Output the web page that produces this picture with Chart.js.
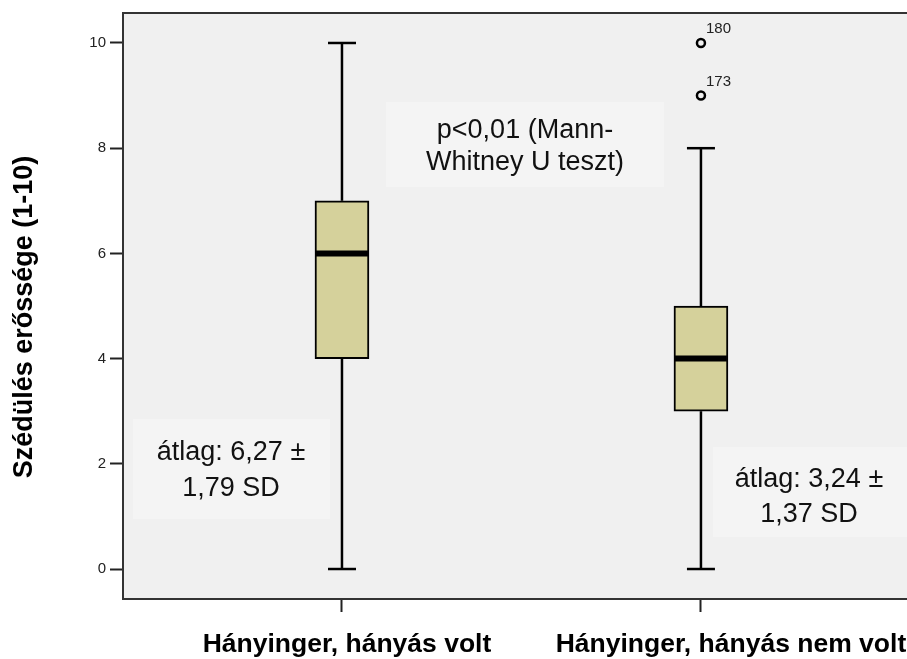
<!DOCTYPE html>
<html>
<head>
<meta charset="utf-8">
<script src="https://cdn.jsdelivr.net/npm/chart.js@4.4.1/dist/chart.umd.min.js"></script>
<style>
  body { margin: 0; background: #fff; }
  #wrap { width: 907px; height: 659px; }
</style>
</head>
<body>
<div id="wrap"><canvas id="box" width="907" height="659"></canvas></div>
<script>
const groups = ["Hányinger, hányás volt", "Hányinger, hányás nem volt"];
const groupPos = [1, 2];
const whiskerLow = [0, 0];
const q1 = [4, 3];
const median = [6, 4];
const q3 = [7, 5];
const whiskerHigh = [10, 8];

const outlierGroup = [2, 2];
const outlierValue = [10, 9];
const outlierId = ["180", "173"];

const yTicks = [0, 2, 4, 6, 8, 10];
const yTitle = "Szédülés erőssége (1-10)";

const noteLines = [
  ["p<0,01 (Mann-", "Whitney U teszt)"],
  ["átlag: 6,27 ±", "1,79 SD"],
  ["átlag: 3,24 ±", "1,37 SD"],
];

const FONT = "'Liberation Sans', Arial, sans-serif";

// note boxes (pixels): left, top, width, height, center x, first baseline, line gap
const noteBoxes = [
  { x: 386, y: 102, w: 278, h: 85, cx: 525, base: 138, gap: 32 },
  { x: 133, y: 419, w: 197, h: 100, cx: 231, base: 460, gap: 36 },
  { x: 713, y: 447, w: 194, h: 90, cx: 809, base: 487, gap: 35 },
];

// whisker segments, one dataset each
const whiskerSets = [];
groupPos.forEach((x, i) => {
  [[q3[i], whiskerHigh[i]], [whiskerLow[i], q1[i]]].forEach((seg) => {
    whiskerSets.push({
      type: "line",
      data: seg.map((v) => ({ x: x, y: v })),
      borderColor: "#000",
      borderWidth: 2.5,
      pointRadius: 0,
      order: 4,
    });
  });
});

const plotBg = {
  id: "plotBg",
  beforeDraw(chart) {
    const { ctx, chartArea: a } = chart;
    ctx.save();
    ctx.fillStyle = "#f0f0f0";
    ctx.fillRect(a.left, a.top, a.right - a.left, a.bottom - a.top);
    noteBoxes.forEach((b) => {
      ctx.fillStyle = "#f4f4f4";
      ctx.fillRect(b.x, b.y, b.w, b.h);
    });
    ctx.restore();
  },
  afterDraw(chart) {
    const { ctx, chartArea: a, scales } = chart;
    ctx.save();
    // top frame line
    ctx.strokeStyle = "#333";
    ctx.lineWidth = 2;
    ctx.beginPath();
    ctx.moveTo(a.left - 1, a.top);
    ctx.lineTo(a.right, a.top);
    ctx.stroke();

    // notes
    ctx.fillStyle = "#111";
    ctx.font = "27px " + FONT;
    ctx.textAlign = "center";
    ctx.textBaseline = "alphabetic";
    noteBoxes.forEach((b, i) => {
      noteLines[i].forEach((t, j) => ctx.fillText(t, b.cx, b.base + j * b.gap));
    });

    // outlier ids
    ctx.font = "15px " + FONT;
    ctx.textAlign = "left";
    ctx.fillStyle = "#222";
    outlierValue.forEach((v, i) => {
      const px = scales.x.getPixelForValue(outlierGroup[i]);
      const py = scales.y.getPixelForValue(v);
      ctx.fillText(outlierId[i], px + 5, py - 10);
    });

    // category labels
    ctx.font = "bold 26.5px " + FONT;
    ctx.textAlign = "center";
    ctx.fillStyle = "#000";
    const shift = [5, 30];
    groups.forEach((g, i) => {
      ctx.fillText(g, scales.x.getPixelForValue(groupPos[i]) + shift[i], 652);
    });

    // y title
    ctx.font = "bold 27px " + FONT;
    ctx.translate(25, 317);
    ctx.rotate(-Math.PI / 2);
    ctx.textBaseline = "middle";
    ctx.fillText(yTitle, 0, 0);
    ctx.restore();
  },
};

new Chart(document.getElementById("box"), {
  type: "bar",
  data: {
    datasets: [
      {
        type: "scatter",
        data: groupPos.map((x, i) => ({ x: x, y: median[i] })),
        pointStyle: "line",
        pointRadius: 26,
        borderColor: "#000",
        borderWidth: 6,
        order: 1,
      },
      {
        type: "scatter",
        data: outlierValue.map((v, i) => ({ x: outlierGroup[i], y: v })),
        pointStyle: "circle",
        pointRadius: 4,
        borderColor: "#000",
        backgroundColor: "#f0f0f0",
        borderWidth: 2.5,
        order: 1,
      },
      {
        type: "scatter",
        data: groupPos.flatMap((x, i) => [
          { x: x, y: whiskerLow[i] },
          { x: x, y: whiskerHigh[i] },
        ]),
        pointStyle: "line",
        pointRadius: 14,
        borderColor: "#000",
        borderWidth: 2.5,
        order: 2,
      },
      {
        type: "bar",
        data: groupPos.map((x, i) => ({ x: x, y: [q1[i], q3[i]] })),
        backgroundColor: "#d5d19b",
        borderColor: "#000",
        borderWidth: 2,
        borderSkipped: false,
        barThickness: 54,
        order: 3,
      },
      ...whiskerSets,
    ],
  },
  options: {
    responsive: false,
    animation: false,
    layout: { autoPadding: false, padding: { top: 12, right: 0, left: 0, bottom: 0 } },
    plugins: {
      legend: { display: false },
      tooltip: { enabled: false },
    },
    scales: {
      x: {
        type: "linear",
        min: 0.39,
        max: 2.574,
        offset: false,
        afterBuildTicks: (s) => { s.ticks = groupPos.map((v) => ({ value: v })); },
        afterFit: (s) => { s.height = 60; },
        ticks: { callback: () => "" },
        grid: {
          offset: false,
          drawOnChartArea: false,
          drawTicks: true,
          tickLength: 13,
          tickWidth: 2,
          tickColor: "#222",
        },
        border: { display: true, color: "#333", width: 2 },
      },
      y: {
        min: -0.57,
        max: 10.57,
        afterBuildTicks: (s) => { s.ticks = yTicks.map((v) => ({ value: v })); },
        afterFit: (s) => { s.width = 123; },
        ticks: {
          color: "#222",
          padding: 4,
          font: { size: 15, family: FONT },
        },
        grid: {
          drawOnChartArea: false,
          drawTicks: true,
          tickLength: 13,
          tickWidth: 2,
          tickColor: "#222",
        },
        border: { display: true, color: "#333", width: 2 },
      },
    },
  },
  plugins: [plotBg],
});
</script>
</body>
</html>
